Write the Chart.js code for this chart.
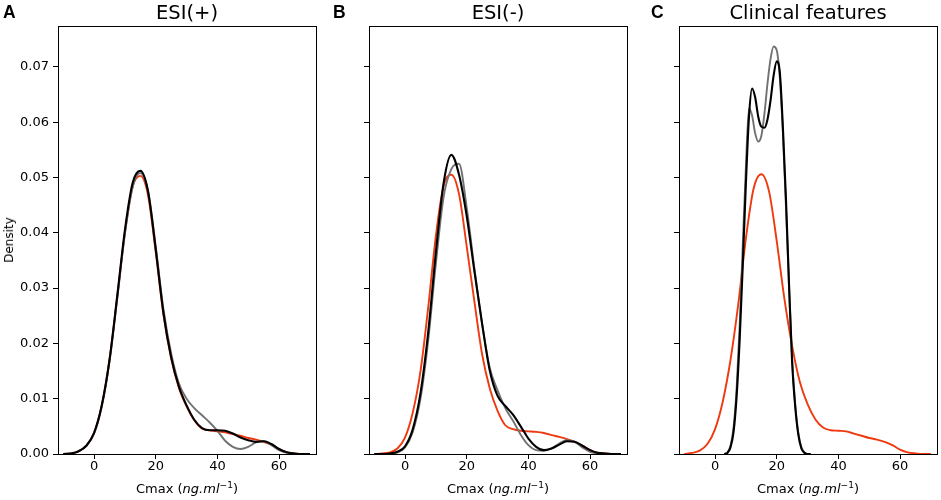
<!DOCTYPE html>
<html>
<head>
<meta charset="utf-8">
<script src="https://cdn.jsdelivr.net/npm/chart.js@4.4.1/dist/chart.umd.min.js"></script>
<style>
  body { margin: 0; background: #fff; font-family: "DejaVu Sans", sans-serif; color: #000; }
  #page { position: relative; width: 941px; height: 500px; overflow: hidden; }
  .panel { position: absolute; top: 0; width: 320px; height: 500px; }
  .letter { position: absolute; top: 4px; font: bold 17.5px "Liberation Sans", Arial, sans-serif; line-height: 1; }
  .title { position: absolute; top: 3px; font-size: 19.5px; line-height: 1; transform: translateX(-50%); white-space: nowrap; }
  .xlabel { position: absolute; top: 482px; font-size: 13px; line-height: 1; transform: translateX(-50%); white-space: nowrap; }
  .xlabel sup { font-size: 70%; vertical-align: 0.5em; line-height: 0; }
  #ylabel { position: absolute; left: 9px; top: 240px; font-size: 12px; font-weight: normal; color: #000;
            line-height: 1; transform: translate(-50%, -50%) rotate(-90deg); }
</style>
</head>
<body>
<div id="page">
  <div class="panel" style="left:0px"><canvas id="chartA"></canvas></div>
  <div class="panel" style="left:311px"><canvas id="chartB"></canvas></div>
  <div class="panel" style="left:621px"><canvas id="chartC"></canvas></div>

  <div class="letter" style="left:3px">A</div>
  <div class="letter" style="left:333px">B</div>
  <div class="letter" style="left:651px">C</div>

  <div class="title" style="left:187px">ESI(+)</div>
  <div class="title" style="left:498px">ESI(-)</div>
  <div class="title" style="left:808px">Clinical features</div>

  <div id="ylabel">Density</div>
  <div class="xlabel" style="left:187px">Cmax (<i>ng.ml</i><sup>−1</sup>)</div>
  <div class="xlabel" style="left:498px">Cmax (<i>ng.ml</i><sup>−1</sup>)</div>
  <div class="xlabel" style="left:808px">Cmax (<i>ng.ml</i><sup>−1</sup>)</div>
</div>

<script>
// x grid for the wide curves (Cmax)
const xWide = [-10, -7.5, -5, -2.5, 0, 2.5, 5, 7.5, 10, 12.5, 15, 17.5, 20, 22.5, 25, 27.5, 30,
               32.5, 35, 37.5, 40, 42.5, 45, 47.5, 50, 52.5, 55, 57.5, 60, 62.5, 65, 67.5, 70];
// x grid for the narrow curves in panel C
const xNarrow = [3, 4, 5, 6, 7, 8, 9, 10, 11, 12, 13, 14, 15, 16, 17, 18, 19, 20, 21, 22,
                 23, 24, 25, 26, 27, 28, 29, 30, 31];

// Panel A - ESI(+)
const posBlack = [0, 0.0001, 0.0005, 0.0015, 0.0038, 0.0088, 0.0170, 0.0285, 0.0405, 0.0490, 0.0512,
                  0.0475, 0.0370, 0.0255, 0.0175, 0.0122, 0.0088, 0.0062, 0.0047, 0.0043, 0.0043, 0.0042,
                  0.0037, 0.0030, 0.0025, 0.0022, 0.0023, 0.0018, 0.0009, 0.0003, 0.0001, 0, 0];
const posGray = [0, 0.0001, 0.0005, 0.0015, 0.0037, 0.0086, 0.0167, 0.0280, 0.0398, 0.0483, 0.0508,
                 0.0476, 0.0375, 0.0262, 0.0182, 0.0128, 0.0100, 0.0083, 0.0070, 0.0057, 0.0042, 0.0024,
                 0.0013, 0.0009, 0.0013, 0.0021, 0.0023, 0.0016, 0.0007, 0.0002, 0, 0, 0];
const posRed = [0, 0.0001, 0.0005, 0.0015, 0.0038, 0.0088, 0.0170, 0.0284, 0.0400, 0.0483, 0.0503,
                0.0468, 0.0365, 0.0252, 0.0173, 0.0120, 0.0086, 0.0061, 0.0046, 0.0043, 0.0041, 0.0039,
                0.0036, 0.0033, 0.0029, 0.0026, 0.0022, 0.0017, 0.0009, 0.0003, 0.0001, 0, 0];

// Panel B - ESI(-)
const negBlack = [0, 0, 0.0001, 0.0004, 0.0014, 0.0045, 0.0110, 0.0220, 0.0365, 0.0490, 0.0541,
                  0.0505, 0.0430, 0.0330, 0.0235, 0.0150, 0.0105, 0.0087, 0.0071, 0.0050, 0.0028, 0.0013,
                  0.0007, 0.0010, 0.0017, 0.0023, 0.0022, 0.0015, 0.0007, 0.0002, 0.0001, 0, 0];
const negGray = [0, 0, 0, 0.0003, 0.0012, 0.0040, 0.0100, 0.0205, 0.0345, 0.0465, 0.0515,
                 0.0525, 0.0445, 0.0335, 0.0235, 0.0155, 0.0115, 0.0083, 0.0060, 0.0035, 0.0016, 0.0007,
                 0.0006, 0.0010, 0.0019, 0.0025, 0.0022, 0.0012, 0.0004, 0.0001, 0, 0, 0];
const negRed = [0, 0.0001, 0.0003, 0.0010, 0.0030, 0.0075, 0.0150, 0.0265, 0.0395, 0.0485, 0.0505,
                0.0470, 0.0375, 0.0275, 0.0180, 0.0118, 0.0078, 0.0052, 0.0045, 0.0042, 0.0041, 0.0040,
                0.0038, 0.0034, 0.0031, 0.0027, 0.0022, 0.0015, 0.0007, 0.0002, 0.0001, 0, 0];

// Panel C - Clinical features
const clinBlack = [0, 0.0002, 0.0012, 0.0040, 0.0105, 0.0210, 0.0345, 0.0490, 0.0610, 0.0661, 0.0645,
                   0.0610, 0.0592, 0.0590, 0.0605, 0.0640, 0.0685, 0.0710, 0.0690, 0.0590, 0.0460,
                   0.0305, 0.0165, 0.0085, 0.0035, 0.0010, 0.0002, 0, 0];
const clinGray = [0, 0.0003, 0.0015, 0.0048, 0.0120, 0.0235, 0.0380, 0.0520, 0.0625, 0.0612, 0.0580,
                  0.0565, 0.0575, 0.0615, 0.0670, 0.0715, 0.0737, 0.0730, 0.0680, 0.0580, 0.0445,
                  0.0300, 0.0170, 0.0090, 0.0038, 0.0012, 0.0003, 0, 0];
const clinRed = [0, 0.0002, 0.0006, 0.0018, 0.0045, 0.0095, 0.0170, 0.0270, 0.0390, 0.0480, 0.0506,
                 0.0475, 0.0385, 0.0280, 0.0195, 0.0130, 0.0090, 0.0063, 0.0048, 0.0043, 0.0042, 0.0041,
                 0.0037, 0.0033, 0.0029, 0.0026, 0.0022, 0.0016, 0.0008, 0.0003, 0.0001, 0, 0];

const xTicks = [0, 20, 40, 60];
const yTicks = [0, 0.01, 0.02, 0.03, 0.04, 0.05, 0.06, 0.07];

const BLACK = '#000000';
const GRAY = '#727272';
const RED = '#ee3a0e';

// box around the plot area, like matplotlib spines
const frame = {
    id: 'frame',
    afterDatasetsDraw(chart) {
        const a = chart.chartArea;
        const ctx = chart.ctx;
        ctx.save();
        ctx.strokeStyle = '#000';
        ctx.lineWidth = 1;
        ctx.strokeRect(Math.round(a.left) + 0.5, Math.round(a.top) + 0.5,
                       Math.round(a.right - a.left) - 1, Math.round(a.bottom - a.top));
        ctx.restore();
    }
};

function series(xs, ys, color, order) {
    return {
        data: xs.map((x, i) => ({ x: x, y: ys[i] })),
        borderColor: color,
        borderWidth: color === BLACK ? 2.1 : 1.9,
        pointRadius: 0,
        fill: false,
        cubicInterpolationMode: 'monotone',
        order: order
    };
}

function makePanel(id, datasets, showYLabels) {
    new Chart(document.getElementById(id), {
        type: 'line',
        data: { datasets: datasets },
        plugins: [frame],
        options: {
            responsive: true,
            maintainAspectRatio: false,
            animation: false,
            layout: { padding: { top: 26, right: 3, left: 0, bottom: 0 } },
            plugins: { legend: { display: false }, tooltip: { enabled: false } },
            scales: {
                x: {
                    type: 'linear',
                    min: -11.7,
                    max: 72.3,
                    afterFit: s => { s.height = 46; },
                    afterBuildTicks: s => { s.ticks = xTicks.map(v => ({ value: v })); },
                    border: { display: false },
                    grid: { drawOnChartArea: false, drawTicks: true, tickLength: 5, color: '#000' },
                    ticks: {
                        color: '#000', padding: 0, maxRotation: 0,
                        font: { family: 'DejaVu Sans', size: 13 }
                    }
                },
                y: {
                    min: 0,
                    max: 0.0774,
                    afterFit: s => { s.width = 58; },
                    afterBuildTicks: s => { s.ticks = yTicks.map(v => ({ value: v })); },
                    border: { display: false },
                    grid: { drawOnChartArea: false, drawTicks: true, tickLength: 5, color: '#000' },
                    ticks: {
                        color: '#000', padding: 4,
                        font: { family: 'DejaVu Sans', size: 13 },
                        callback: v => showYLabels ? v.toFixed(2) : ''
                    }
                }
            }
        }
    });
}

makePanel('chartA', [
    series(xWide, posBlack, BLACK, 1),
    series(xWide, posGray, GRAY, 2),
    series(xWide, posRed, RED, 3)
], true);

makePanel('chartB', [
    series(xWide, negBlack, BLACK, 1),
    series(xWide, negGray, GRAY, 2),
    series(xWide, negRed, RED, 3)
], false);

makePanel('chartC', [
    series(xNarrow, clinBlack, BLACK, 1),
    series(xNarrow, clinGray, GRAY, 2),
    series(xWide, clinRed, RED, 3)
], false);
</script>
</body>
</html>
